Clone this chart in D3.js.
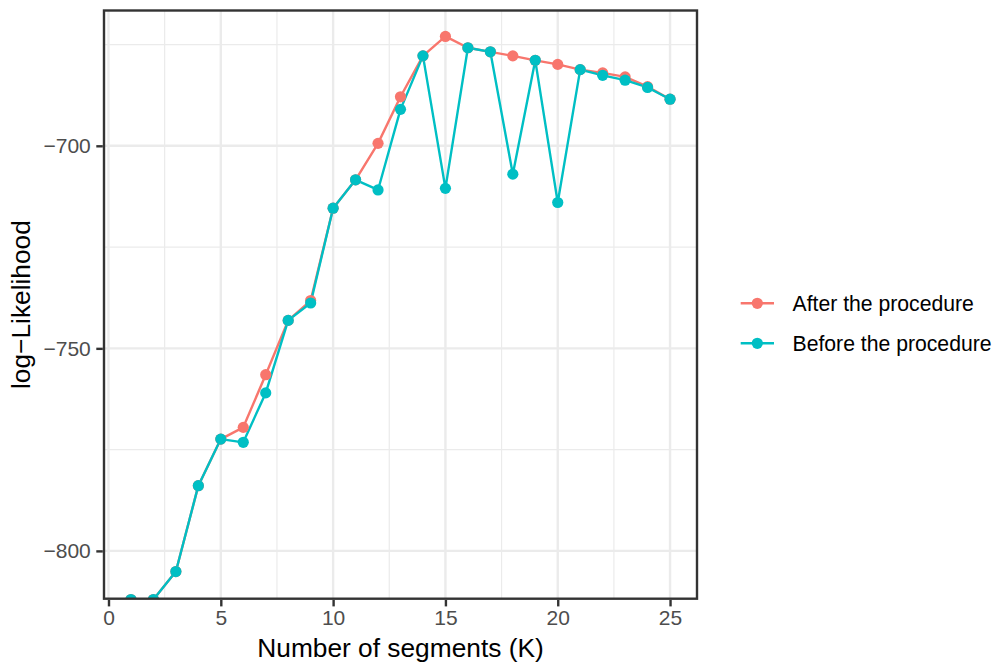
<!DOCTYPE html>
<html>
<head>
<meta charset="utf-8">
<script src="https://cdn.jsdelivr.net/npm/d3@7"></script>
<style>
  body { margin: 0; background: #fff; }
  svg { display: block; font-family: "Liberation Sans", Arial, Helvetica, sans-serif; }
</style>
</head>
<body>
<svg id="chart" width="994" height="663"></svg>
<script>
// ---- data ----
const segments = [1,2,3,4,5,6,7,8,9,10,11,12,13,14,15,16,17,18,19,20,21,22,23,24,25];
const afterValues = [-812, -812, -805.1, -783.9, -772.4, -769.5, -756.5, -743.1, -738.2, -715.4, -708.4, -699.4, -687.9, -677.8, -673.0, -675.8, -676.8, -677.8, -678.9, -679.9, -681.2, -682.0, -683.0, -685.4, -688.5];
const beforeValues = [-812, -812, -805.1, -783.9, -772.4, -773.2, -761.0, -743.1, -738.8, -715.4, -708.4, -710.9, -691.0, -677.8, -710.5, -675.8, -676.8, -707.0, -678.9, -714.0, -681.2, -682.6, -683.8, -685.6, -688.5];
const seriesNames = ["After the procedure", "Before the procedure"];
const seriesColors = ["#F8766D", "#00BFC4"];
const xTicks = [0, 5, 10, 15, 20, 25];
const xMinor = [2.5, 7.5, 12.5, 17.5, 22.5];
const yTicks = [-800, -750, -700];
const yMinor = [-775, -725, -675];

// ---- layout ----
const panel = { left: 104, right: 697, top: 10.5, bottom: 598.7 };
const svg = d3.select("#chart");

const x = d3.scaleLinear().domain([-0.2, 26.2]).range([panel.left, panel.right]);
const y = d3.scaleLinear().domain([-811.8, -666.6]).range([panel.bottom, panel.top]);

svg.append("defs").append("clipPath").attr("id", "clip")
  .append("rect")
  .attr("x", panel.left).attr("y", panel.top)
  .attr("width", panel.right - panel.left).attr("height", panel.bottom - panel.top);

const grid = svg.append("g");
// minor grid
grid.selectAll(".xminor").data(xMinor).enter().append("line")
  .attr("x1", d => x(d)).attr("x2", d => x(d))
  .attr("y1", panel.top).attr("y2", panel.bottom)
  .attr("stroke", "#EBEBEB").attr("stroke-width", 1.2);
grid.selectAll(".yminor").data(yMinor).enter().append("line")
  .attr("y1", d => y(d)).attr("y2", d => y(d))
  .attr("x1", panel.left).attr("x2", panel.right)
  .attr("stroke", "#EBEBEB").attr("stroke-width", 1.2);
// major grid
grid.selectAll(".xmajor").data(xTicks).enter().append("line")
  .attr("x1", d => x(d)).attr("x2", d => x(d))
  .attr("y1", panel.top).attr("y2", panel.bottom)
  .attr("stroke", "#EBEBEB").attr("stroke-width", 2.4);
grid.selectAll(".ymajor").data(yTicks).enter().append("line")
  .attr("y1", d => y(d)).attr("y2", d => y(d))
  .attr("x1", panel.left).attr("x2", panel.right)
  .attr("stroke", "#EBEBEB").attr("stroke-width", 2.4);

// ---- series ----
const series = [
  { name: seriesNames[0], color: seriesColors[0], values: afterValues },
  { name: seriesNames[1], color: seriesColors[1], values: beforeValues }
];
const line = d3.line().x((d, i) => x(segments[i])).y(d => y(d));
const plot = svg.append("g").attr("clip-path", "url(#clip)");
series.forEach(s => {
  plot.append("path").datum(s.values)
    .attr("d", line).attr("fill", "none")
    .attr("stroke", s.color).attr("stroke-width", 2.4)
    .attr("stroke-linejoin", "round");
});
series.forEach(s => {
  plot.selectAll(null).data(s.values).enter().append("circle")
    .attr("cx", (d, i) => x(segments[i])).attr("cy", d => y(d))
    .attr("r", 5.6).attr("fill", s.color);
});

// ---- border ----
svg.append("rect")
  .attr("x", panel.left).attr("y", panel.top)
  .attr("width", panel.right - panel.left).attr("height", panel.bottom - panel.top)
  .attr("fill", "none").attr("stroke", "#333333").attr("stroke-width", 2.4);

// ---- axes ----
const xAxis = d3.axisBottom(x).tickValues(xTicks).tickSize(6.5).tickPadding(3.5).tickFormat(d3.format("d"));
const gx = svg.append("g").attr("transform", `translate(0,${panel.bottom + 1.2})`).call(xAxis);
gx.select(".domain").remove();
gx.selectAll(".tick line").attr("stroke", "#333333").attr("stroke-width", 2.4);
gx.selectAll(".tick text").attr("fill", "#4D4D4D").style("font-size", "21px");

const yAxis = d3.axisLeft(y).tickValues(yTicks).tickSize(6.5).tickPadding(5.5)
  .tickFormat(d => (d < 0 ? "\u2212" : "") + Math.abs(d));
const gy = svg.append("g").attr("transform", `translate(${panel.left - 1.2},0)`).call(yAxis);
gy.select(".domain").remove();
gy.selectAll(".tick line").attr("stroke", "#333333").attr("stroke-width", 2.4);
gy.selectAll(".tick text").attr("fill", "#4D4D4D").style("font-size", "21px");

svg.selectAll(".tick text").style("font-family", '"Liberation Sans", Arial, sans-serif');

// ---- titles ----
svg.append("text")
  .attr("x", (panel.left + panel.right) / 2).attr("y", 656.5)
  .attr("text-anchor", "middle").style("font-size", "26.3px").attr("fill", "#000")
  .text("Number of segments (K)");
svg.append("text")
  .attr("transform", `translate(30,${(panel.top + panel.bottom) / 2}) rotate(-90)`)
  .attr("text-anchor", "middle").style("font-size", "26.3px").attr("fill", "#000")
  .text("log\u2212Likelihood");

// ---- legend ----
const legendY = [303.3, 343.3];
const legend = svg.append("g");
series.forEach((s, i) => {
  const g = legend.append("g").attr("transform", `translate(0,${legendY[i]})`);
  g.append("line").attr("x1", 740.7).attr("x2", 774).attr("y1", 0).attr("y2", 0)
    .attr("stroke", s.color).attr("stroke-width", 2.4);
  g.append("circle").attr("cx", 757.3).attr("cy", 0).attr("r", 5.6).attr("fill", s.color);
  g.append("text").attr("x", 792.5).attr("y", 0).attr("dy", "0.35em")
    .style("font-size", "21.2px").attr("fill", "#000").text(s.name);
});
</script>
</body>
</html>
